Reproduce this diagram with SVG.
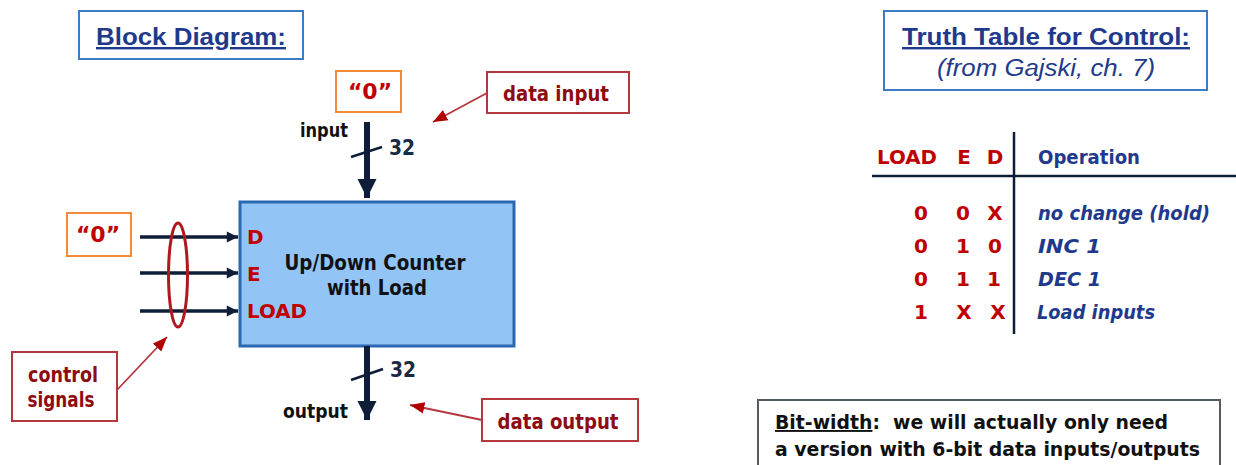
<svg xmlns="http://www.w3.org/2000/svg" width="1236" height="465" viewBox="0 0 1236 465">
<style>
.title{font-family:"Liberation Sans",Arial,sans-serif;font-weight:bold;font-size:24px;fill:#1f3a8c;text-decoration:underline}
.sub{font-family:"Liberation Sans",Arial,sans-serif;font-style:italic;font-size:23px;fill:#1f3a8c}
.c{font-family:"DejaVu Sans","Liberation Sans",sans-serif;font-weight:bold}
.red{fill:#c00000}
.dred{fill:#8e0b12}
.blk{fill:#111}
.navy{fill:#1f3a8c}
.bluebox{fill:#fff;stroke:#3a7cc6;stroke-width:2}
.orbox{fill:#fff;stroke:#f5893a;stroke-width:2}
.rbox{fill:#fff;stroke:#b3373c;stroke-width:2}
.thick{stroke:#0e1d38;stroke-width:6;fill:none}
.wire{stroke:#0e1d38;stroke-width:3.5;fill:none}
.rline{stroke:#b3373c;stroke-width:1.8;fill:none}
</style>
<defs>
<marker id="bigArrow" viewBox="0 0 10 10" refX="10" refY="5" markerWidth="3.2" markerHeight="3.2" orient="auto" markerUnits="strokeWidth">
<path d="M0,0 L10,5 L0,10 z" fill="#0e1d38"/>
</marker>
<marker id="smArrow" viewBox="0 0 10 10" refX="10" refY="5" markerWidth="3.4" markerHeight="3.2" orient="auto" markerUnits="strokeWidth">
<path d="M0,0 L10,5 L0,10 z" fill="#0e1d38"/>
</marker>
<marker id="redArrow" viewBox="0 0 10 10" refX="10" refY="5" markerWidth="8" markerHeight="8" orient="auto" markerUnits="strokeWidth">
<path d="M0,1 L10,5 L0,9 z" fill="#b00000"/>
</marker>
</defs>

<g id="block-title">
<rect x="79" y="11" width="224" height="48" class="bluebox"/>
<text x="191" y="45" text-anchor="middle" class="title" font-size="25" textLength="190" lengthAdjust="spacingAndGlyphs">Block Diagram:</text>
</g>

<g id="zero-top">
<rect x="336" y="71" width="65" height="41" class="orbox"/>
<text x="370" y="99" text-anchor="middle" class="c red" font-size="22">“0”</text>
</g>

<g id="data-input">
<rect x="487" y="72" width="142" height="41" class="rbox"/>
<text x="556" y="101" text-anchor="middle" class="c dred" font-size="22" textLength="106" lengthAdjust="spacingAndGlyphs">data input</text>
</g>

<g id="counter">
<rect x="240" y="202" width="274" height="144" fill="#92c4f6" stroke="#2a68b3" stroke-width="3"/>
<text x="375" y="270" text-anchor="middle" class="c blk" font-size="21" textLength="181" lengthAdjust="spacingAndGlyphs">Up/Down Counter</text>
<text x="377" y="295" text-anchor="middle" class="c blk" font-size="21" textLength="100" lengthAdjust="spacingAndGlyphs">with Load</text>
<text x="247" y="244" class="c red" font-size="20">D</text>
<text x="247" y="281" class="c red" font-size="20">E</text>
<text x="247" y="318" class="c red" font-size="20" textLength="60" lengthAdjust="spacingAndGlyphs">LOAD</text>
</g>

<g id="zero-left">
<rect x="67" y="213" width="64" height="43" class="orbox"/>
<text x="98" y="242" text-anchor="middle" class="c red" font-size="22">“0”</text>
</g>

<g id="control-signals">
<rect x="12" y="352" width="105" height="69" class="rbox"/>
<text x="63" y="382" text-anchor="middle" class="c dred" font-size="21" textLength="70" lengthAdjust="spacingAndGlyphs">control</text>
<text x="61" y="407" text-anchor="middle" class="c dred" font-size="21" textLength="67" lengthAdjust="spacingAndGlyphs">signals</text>
</g>

<g id="data-output">
<rect x="482" y="399" width="156" height="42" class="rbox"/>
<text x="558" y="429" text-anchor="middle" class="c dred" font-size="22" textLength="121" lengthAdjust="spacingAndGlyphs">data output</text>
</g>

<g id="connectors">
<line x1="367" y1="122" x2="367" y2="198" class="thick" marker-end="url(#bigArrow)"/>
<line x1="351" y1="157" x2="382" y2="147" stroke="#0e1d38" stroke-width="2.5"/>
<text x="389" y="155" class="c" fill="#1b2a44" font-size="21" textLength="26" lengthAdjust="spacingAndGlyphs">32</text>
<text x="300" y="137" class="c blk" font-size="19" textLength="48" lengthAdjust="spacingAndGlyphs">input</text>

<line x1="367" y1="346" x2="367" y2="420" class="thick" marker-end="url(#bigArrow)"/>
<line x1="351" y1="380" x2="383" y2="369" stroke="#0e1d38" stroke-width="2.5"/>
<text x="390" y="377" class="c" fill="#1b2a44" font-size="21" textLength="26" lengthAdjust="spacingAndGlyphs">32</text>
<text x="283" y="418" class="c blk" font-size="19" textLength="65" lengthAdjust="spacingAndGlyphs">output</text>

<line x1="140" y1="237" x2="238" y2="237" class="wire" marker-end="url(#smArrow)"/>
<line x1="140" y1="273" x2="238" y2="273" class="wire" marker-end="url(#smArrow)"/>
<line x1="140" y1="311" x2="238" y2="311" class="wire" marker-end="url(#smArrow)"/>
<ellipse cx="178" cy="275" rx="9.5" ry="52" fill="none" stroke="#b01820" stroke-width="3"/>

<line x1="487" y1="93" x2="433" y2="122" class="rline" marker-end="url(#redArrow)"/>
<line x1="117" y1="390" x2="167" y2="337" class="rline" marker-end="url(#redArrow)"/>
<line x1="482" y1="420" x2="410" y2="405" class="rline" marker-end="url(#redArrow)"/>
</g>

<g id="truth-title">
<rect x="884" y="11" width="323" height="79" class="bluebox"/>
<text x="1046" y="45" text-anchor="middle" class="title" textLength="288" lengthAdjust="spacingAndGlyphs">Truth Table for Control:</text>
<text x="1046" y="76" text-anchor="middle" class="sub" textLength="218" lengthAdjust="spacingAndGlyphs">(from Gajski, ch. 7)</text>
</g>

<g id="truth-table">
<line x1="1014" y1="132" x2="1014" y2="334" stroke="#0e1d38" stroke-width="2.5"/>
<line x1="872" y1="176" x2="1236" y2="176" stroke="#0e1d38" stroke-width="2.5"/>
<text x="877" y="164" class="c red" font-size="20" textLength="60" lengthAdjust="spacingAndGlyphs">LOAD</text>
<text x="964" y="164" text-anchor="middle" class="c red" font-size="20">E</text>
<text x="995" y="164" text-anchor="middle" class="c red" font-size="20">D</text>
<text x="1038" y="164" class="c navy" font-size="20" textLength="102" lengthAdjust="spacingAndGlyphs">Operation</text>
<g class="c red" font-size="20" text-anchor="middle">
<text x="921" y="220">0</text><text x="963" y="220">0</text><text x="995" y="220">X</text>
<text x="921" y="253">0</text><text x="963" y="253">1</text><text x="995" y="253">0</text>
<text x="921" y="286">0</text><text x="963" y="286">1</text><text x="994" y="286">1</text>
<text x="921" y="319">1</text><text x="964" y="319">X</text><text x="998" y="319">X</text>
</g>
<g class="c navy" font-size="20" font-style="italic">
<text x="1038" y="220" textLength="172" lengthAdjust="spacingAndGlyphs">no change (hold)</text>
<text x="1038" y="253" textLength="63" lengthAdjust="spacingAndGlyphs">INC 1</text>
<text x="1038" y="286" textLength="63" lengthAdjust="spacingAndGlyphs">DEC 1</text>
<text x="1037" y="319" textLength="118" lengthAdjust="spacingAndGlyphs">Load inputs</text>
</g>
</g>

<g id="bit-width-note">
<rect x="758" y="400" width="462" height="70" fill="#fff" stroke="#555c66" stroke-width="2"/>
<text x="775" y="429" class="c blk" font-size="19" textLength="393" lengthAdjust="spacingAndGlyphs" xml:space="preserve"><tspan text-decoration="underline">Bit-width</tspan>:  we will actually only need</text>
<text x="775" y="456" class="c blk" font-size="19" textLength="425" lengthAdjust="spacingAndGlyphs">a version with 6-bit data inputs/outputs</text>
</g>
</svg>
